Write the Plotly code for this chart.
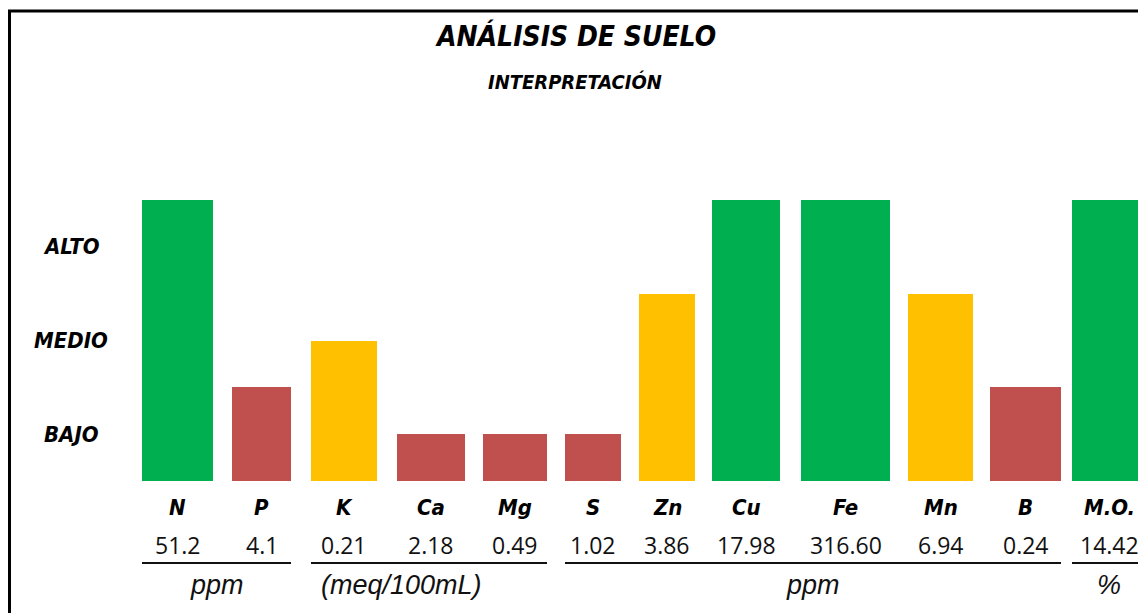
import plotly.graph_objects as go

# ---- data ----
elementos = ["N", "P", "K", "Ca", "Mg", "S", "Zn", "Cu", "Fe", "Mn", "B", "M.O."]
valores = ["51.2", "4.1", "0.21", "2.18", "0.49", "1.02", "3.86", "17.98", "316.60", "6.94", "0.24", "14.42"]
unidades = ["ppm", "ppm", "(meq/100mL)", "(meq/100mL)", "(meq/100mL)",
            "ppm", "ppm", "ppm", "ppm", "ppm", "ppm", "%"]
nivel = [6, 2, 3, 1, 1, 1, 4, 6, 6, 4, 2, 6]   # interpretation score
nivel_ticks = [1, 3, 5]
nivel_labels = ["BAJO", "MEDIO", "ALTO"]

# ---- layout / style ----
PAGE_OFF = 8                      # default body margin of the html page
W, H = 1146 - PAGE_OFF, 613 - PAGE_OFF
ML, MT = 100 - PAGE_OFF, 150 - PAGE_OFF
PW, PH = 1046, 331
MR, MB = W - ML - PW, H - MT - PH
bar_widths = [71, 59, 66, 68, 64, 56, 56, 68, 89, 65, 71, 74]
bar_gaps = [42, 19, 20, 20, 18, 18, 18, 17, 21, 18, 17, 11]
unit_label_shift = {"(meq/100mL)": -28}
Y_MAX = 7.07

RED, YEL, GRN = "#C0504D", "#FFC000", "#00B050"
def color_for(s):
    return RED if s <= 2 else (YEL if s <= 4 else GRN)

NARROW = "DejaVu Sans Condensed, Liberation Sans Narrow, sans-serif"
BOLDI = dict(family=NARROW, color="black", weight="bold", style="italic")

lefts, centers = [], []
pos = 0
for w, g in zip(bar_widths, bar_gaps):
    pos += g
    lefts.append(pos)
    centers.append(pos + w / 2)
    pos += w

fig = go.Figure(go.Bar(
    x=centers, y=nivel, width=bar_widths,
    marker=dict(color=[color_for(s) for s in nivel], line=dict(width=0)),
    hoverinfo="skip",
))

ann = []
shapes = []
for c, e, v in zip(centers, elementos, valores):
    ann.append(dict(x=c, xref="x", y=0, yref="paper", yshift=-26, yanchor="middle",
                    text=e, showarrow=False, font=dict(BOLDI, size=22)))
    ann.append(dict(x=c, xref="x", y=0, yref="paper", yshift=-64, yanchor="middle",
                    text=v, showarrow=False,
                    font=dict(family="Open Sans", size=23, color="#111111")))

groups = []
for i, u in enumerate(unidades):
    if groups and groups[-1][0] == u:
        groups[-1][2] = i
    else:
        groups.append([u, i, i])
for u, a, b in groups:
    x0 = lefts[a]
    x1 = lefts[b] + bar_widths[b]
    shapes.append(dict(type="line", xref="x", yref="paper", ysizemode="pixel", yanchor=0,
                       x0=x0, x1=x1, y0=-82, y1=-82, line=dict(color="#111111", width=2)))
    ann.append(dict(x=(x0 + min(x1, PW)) / 2, xref="x", y=0, yref="paper", yshift=-104,
                    xshift=unit_label_shift.get(u, 0),
                    yanchor="middle", text=u, showarrow=False,
                    font=dict(family="Liberation Sans", size=27, color="#111111", style="italic")))

# level labels (centered, like the original)
LX = (71 - PAGE_OFF - ML) / PW
for t, lab in zip(nivel_ticks, nivel_labels):
    ann.append(dict(x=LX, xref="paper", y=t, yref="y", xanchor="center", yanchor="middle",
                    text=lab, showarrow=False, font=dict(BOLDI, size=22)))

TX = (575 - PAGE_OFF - ML) / PW
ann.append(dict(x=TX, xref="paper", y=1, yref="paper", yshift=MT - (36 - PAGE_OFF),
                yanchor="middle", text="ANÁLISIS DE SUELO", showarrow=False,
                font=dict(BOLDI, size=28)))
ann.append(dict(x=TX, xref="paper", y=1, yref="paper", yshift=MT - (82 - PAGE_OFF),
                yanchor="middle", text="INTERPRETACIÓN", showarrow=False,
                font=dict(BOLDI, size=20)))

# outer frame (left and top edges visible)
shapes.append(dict(type="rect", xref="paper", yref="paper",
                   xsizemode="pixel", xanchor=0, ysizemode="pixel", yanchor=0,
                   x0=-ML + 1.5, x1=PW + 40, y0=-(MB + 40), y1=PH + MT - (11 - PAGE_OFF),
                   line=dict(color="black", width=3), fillcolor="rgba(0,0,0,0)", layer="above"))

fig.update_layout(
    width=W, height=H,
    margin=dict(l=ML, r=MR, t=MT, b=MB),
    paper_bgcolor="white", plot_bgcolor="white",
    showlegend=False,
    bargap=0,
    xaxis=dict(range=[0, PW], showgrid=False, zeroline=False, showticklabels=False,
               showline=False, ticks=""),
    yaxis=dict(range=[0, Y_MAX], showgrid=False, zeroline=False, showline=False,
               showticklabels=False, ticks=""),
    annotations=ann,
    shapes=shapes,
)

fig.write_html("out.html")
